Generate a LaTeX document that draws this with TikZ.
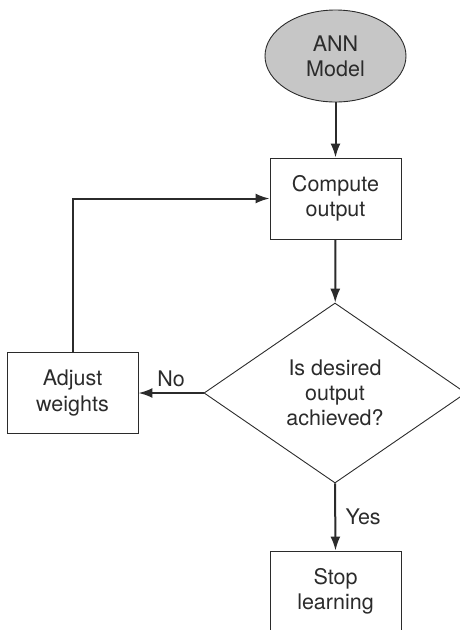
\documentclass[tikz,border=0pt]{standalone}
\usepackage{fontspec}
\setmainfont{TeX Gyre Heros}
\usetikzlibrary{arrows.meta, positioning, shapes.geometric}

\definecolor{inkgray}{HTML}{2B2B2B}
\definecolor{modelgray}{HTML}{C6C6C6}

\begin{document}
\begin{tikzpicture}[
    x=1pt, y=-1pt,
    >={Latex[length=14pt, width=10pt]},
    every node/.style={font=\fontsize{21.5}{25}\selectfont, text=inkgray},
    terminal/.style={ellipse, draw=inkgray, fill=modelgray, line width=0.9pt,
                     minimum width=141pt, minimum height=92pt, inner sep=0pt, align=center},
    process/.style={rectangle, draw=inkgray, line width=0.9pt,
                    minimum width=131pt, minimum height=81pt, inner sep=0pt, align=center},
    decision/.style={diamond, draw=inkgray, line width=0.9pt,
                     minimum width=262pt, minimum height=180pt, inner sep=0pt, align=center},
    flow/.style={->, draw=inkgray, line width=2pt}
]
    \clip (0,0) rectangle (460,630);
    \useasboundingbox (0,0) rectangle (460,630);

    % --- Nodes ---
    \node[terminal] (model)   at (335.5, 56)    {ANN\\Model};
    \node[process]  (compute) at (335.5, 198.5) {Compute\\output};
    \node[decision] (check)   at (335, 393)     {Is desired\\output\\achieved?};
    \node[process]  (adjust)  at (72.5, 393)    {Adjust\\weights};
    \node[process]  (stop)    at (335.5, 591.5) {Stop\\learning};

    % --- Edges ---
    \draw[flow] (model) -- (compute);
    \draw[flow] (compute) -- (check);
    \draw[flow] (check.west) -- node[above=2pt] {No} (adjust.east);
    \draw[flow] (check.south) -- node[right=6pt] {Yes} (stop.north);

    % feedback loop
    \draw[flow] (adjust.north) |- (compute.west);
\end{tikzpicture}
\end{document}
